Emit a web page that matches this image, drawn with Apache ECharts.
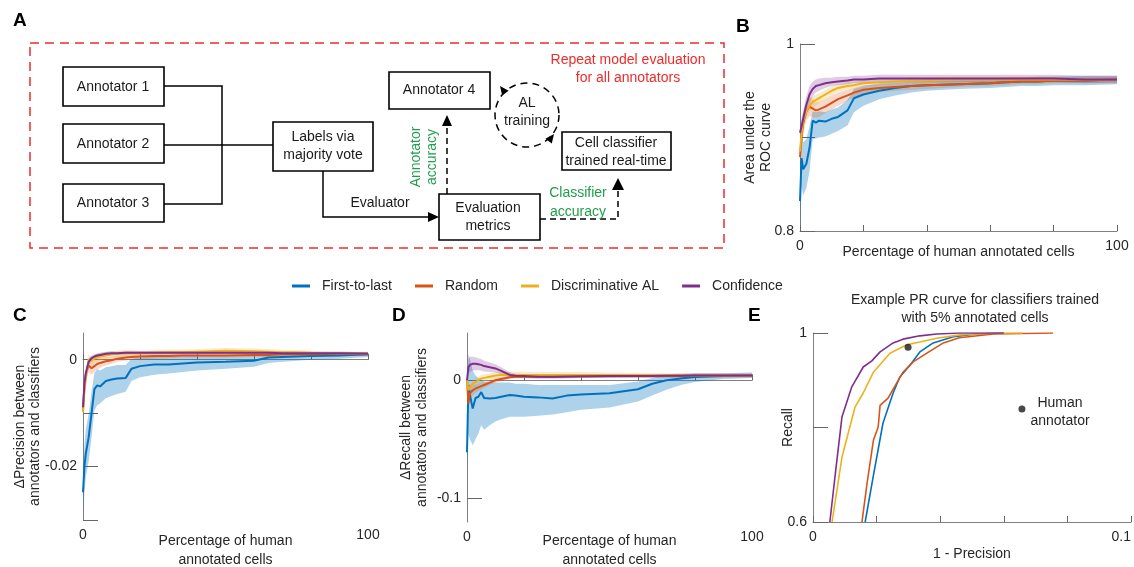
<!DOCTYPE html>
<html>
<head>
<meta charset="utf-8">
<title>Annotator vs classifier evaluation</title>
<script src="https://cdn.jsdelivr.net/npm/echarts@6/dist/echarts.min.js"></script>
<style>
  html, body { margin: 0; padding: 0; background: #fff; }
  #chart { width: 1134px; height: 567px; }
</style>
</head>
<body>
<div id="chart"></div>
<script>
// ---- data ----
// percentage of human annotated cells (x for panels B, C, D)
var pct = [0, 0.5, 1, 2, 3, 4, 5, 6, 8, 10, 12, 15, 17, 20, 25, 30, 35, 40, 50, 60, 65, 70, 75, 80, 90, 100];

// B: area under the ROC curve (mean, lower, upper)
var bBlue   = [0.832,0.878,0.866,0.872,0.889,0.918,0.916,0.918,0.917,0.920,0.922,0.929,0.942,0.946,0.950,0.953,0.955,0.956,0.957,0.958,0.959,0.960,0.960,0.961,0.961,0.962];
var bBlueLo = [0.800,0.848,0.838,0.846,0.864,0.898,0.899,0.900,0.901,0.904,0.907,0.913,0.927,0.934,0.941,0.945,0.948,0.950,0.952,0.953,0.954,0.955,0.955,0.956,0.956,0.957];
var bBlueHi = [0.860,0.905,0.895,0.898,0.912,0.928,0.927,0.928,0.927,0.930,0.932,0.940,0.952,0.955,0.958,0.960,0.961,0.962,0.963,0.963,0.964,0.964,0.965,0.965,0.966,0.966];
var bRed    = [0.879,0.900,0.915,0.928,0.933,0.931,0.929,0.930,0.933,0.937,0.941,0.945,0.948,0.951,0.953,0.954,0.955,0.956,0.957,0.958,0.959,0.960,0.960,0.961,0.961,0.962];
var bRedLo  = [0.868,0.889,0.904,0.918,0.923,0.922,0.921,0.922,0.926,0.930,0.934,0.939,0.943,0.946,0.949,0.950,0.951,0.952,0.954,0.955,0.956,0.957,0.957,0.958,0.958,0.959];
var bRedHi  = [0.890,0.911,0.926,0.938,0.943,0.941,0.938,0.938,0.941,0.945,0.948,0.951,0.953,0.956,0.957,0.958,0.959,0.960,0.960,0.961,0.962,0.963,0.963,0.964,0.964,0.965];
var bYel    = [0.885,0.905,0.918,0.928,0.934,0.938,0.940,0.942,0.946,0.950,0.953,0.955,0.956,0.958,0.959,0.960,0.961,0.961,0.962,0.962,0.962,0.962,0.962,0.962,0.962,0.962];
var bYelLo  = [0.877,0.897,0.910,0.921,0.927,0.932,0.934,0.937,0.941,0.945,0.949,0.951,0.952,0.955,0.956,0.957,0.958,0.958,0.959,0.959,0.959,0.959,0.959,0.959,0.959,0.959];
var bYelHi  = [0.893,0.913,0.926,0.935,0.941,0.944,0.946,0.947,0.951,0.955,0.957,0.959,0.960,0.961,0.962,0.963,0.964,0.964,0.965,0.965,0.965,0.965,0.965,0.965,0.965,0.965];
var bPur    = [0.905,0.912,0.920,0.935,0.946,0.952,0.955,0.956,0.958,0.959,0.960,0.961,0.962,0.962,0.963,0.963,0.963,0.963,0.963,0.963,0.963,0.963,0.963,0.963,0.962,0.962];
var bPurLo  = [0.897,0.903,0.911,0.926,0.937,0.944,0.948,0.950,0.953,0.955,0.956,0.957,0.958,0.958,0.959,0.959,0.959,0.959,0.959,0.959,0.959,0.959,0.959,0.959,0.958,0.958];
var bPurHi  = [0.913,0.921,0.929,0.944,0.955,0.960,0.962,0.963,0.964,0.964,0.965,0.965,0.966,0.966,0.967,0.967,0.967,0.967,0.967,0.967,0.967,0.967,0.967,0.967,0.966,0.966];

// C: delta precision
var cBlue   = [-0.0248,-0.0200,-0.0175,-0.0145,-0.0100,-0.0055,-0.0048,-0.0050,-0.0040,-0.0037,-0.0035,-0.0034,-0.0017,-0.0012,-0.0009,-0.0009,-0.0007,-0.0005,-0.0004,-0.0002,0.0004,0.0005,0.0006,0.0007,0.0008,0.0010];
var cBlueLo = [-0.0290,-0.0250,-0.0220,-0.0190,-0.0145,-0.0095,-0.0085,-0.0082,-0.0072,-0.0068,-0.0064,-0.0060,-0.0040,-0.0033,-0.0028,-0.0026,-0.0023,-0.0020,-0.0017,-0.0013,-0.0006,-0.0004,-0.0002,0.0000,0.0002,0.0005];
var cBlueHi = [-0.0210,-0.0160,-0.0130,-0.0100,-0.0060,-0.0025,-0.0018,-0.0020,-0.0014,-0.0012,-0.0010,-0.0010,0.0002,0.0004,0.0006,0.0006,0.0007,0.0008,0.0008,0.0008,0.0012,0.0013,0.0013,0.0013,0.0013,0.0014];
var cRed    = [-0.0095,-0.0050,-0.0026,-0.0011,-0.0016,-0.0012,-0.0008,-0.0006,-0.0003,-0.0001,0.0002,0.0004,0.0005,0.0006,0.0007,0.0007,0.0008,0.0008,0.0008,0.0009,0.0009,0.0010,0.0010,0.0010,0.0011,0.0011];
var cRedLo  = [-0.0110,-0.0064,-0.0039,-0.0023,-0.0028,-0.0023,-0.0018,-0.0015,-0.0011,-0.0008,-0.0004,-0.0002,0.0000,0.0001,0.0002,0.0003,0.0004,0.0004,0.0004,0.0005,0.0005,0.0006,0.0006,0.0006,0.0007,0.0007];
var cRedHi  = [-0.0080,-0.0036,-0.0013,0.0001,-0.0004,-0.0001,0.0002,0.0003,0.0005,0.0006,0.0008,0.0010,0.0010,0.0011,0.0012,0.0011,0.0012,0.0012,0.0012,0.0013,0.0013,0.0014,0.0014,0.0014,0.0015,0.0015];
var cYel    = [-0.0098,-0.0060,-0.0035,0.0001,-0.0002,0.0002,0.0004,0.0006,0.0008,0.0010,0.0011,0.0012,0.0012,0.0012,0.0013,0.0014,0.0014,0.0015,0.0017,0.0016,0.0015,0.0014,0.0014,0.0013,0.0012,0.0011];
var cYelLo  = [-0.0108,-0.0070,-0.0045,-0.0008,-0.0010,-0.0005,-0.0003,-0.0001,0.0002,0.0004,0.0005,0.0006,0.0006,0.0007,0.0008,0.0009,0.0009,0.0010,0.0012,0.0011,0.0010,0.0010,0.0010,0.0009,0.0009,0.0008];
var cYelHi  = [-0.0088,-0.0050,-0.0025,0.0010,0.0006,0.0009,0.0011,0.0013,0.0014,0.0016,0.0017,0.0018,0.0018,0.0017,0.0018,0.0019,0.0019,0.0020,0.0022,0.0021,0.0020,0.0018,0.0018,0.0017,0.0015,0.0014];
var cPur    = [-0.0089,-0.0045,-0.0025,-0.0004,0.0003,0.0006,0.0008,0.0009,0.0011,0.0012,0.0012,0.0013,0.0013,0.0013,0.0013,0.0013,0.0013,0.0013,0.0013,0.0013,0.0013,0.0012,0.0012,0.0012,0.0012,0.0011];
var cPurLo  = [-0.0097,-0.0053,-0.0032,-0.0010,-0.0002,0.0002,0.0004,0.0005,0.0007,0.0008,0.0009,0.0010,0.0010,0.0010,0.0010,0.0010,0.0010,0.0010,0.0010,0.0010,0.0010,0.0009,0.0009,0.0009,0.0009,0.0008];
var cPurHi  = [-0.0081,-0.0037,-0.0018,0.0002,0.0008,0.0010,0.0012,0.0013,0.0015,0.0016,0.0015,0.0016,0.0016,0.0016,0.0016,0.0016,0.0016,0.0016,0.0016,0.0016,0.0016,0.0015,0.0015,0.0015,0.0015,0.0014];

// D: delta recall
var dBlue   = [-0.061,-0.004,-0.012,-0.024,-0.015,-0.014,-0.010,-0.015,-0.0155,-0.015,-0.014,-0.0125,-0.013,-0.014,-0.0145,-0.0155,-0.013,-0.012,-0.011,-0.0076,-0.003,0.000,0.0015,0.0028,0.0036,0.0042];
var dBlueLo = [-0.075,-0.045,-0.050,-0.055,-0.050,-0.045,-0.038,-0.042,-0.038,-0.035,-0.033,-0.031,-0.031,-0.031,-0.030,-0.029,-0.027,-0.025,-0.023,-0.018,-0.013,-0.008,-0.004,-0.0015,0.001,0.002];
var dBlueHi = [-0.040,0.022,0.018,0.008,0.004,0.002,0.001,-0.001,-0.002,-0.002,-0.002,-0.002,-0.003,-0.003,-0.004,-0.004,-0.004,-0.004,-0.004,-0.001,0.002,0.004,0.005,0.006,0.006,0.0065];
var dRed    = [0.000,-0.020,-0.011,-0.0085,-0.007,-0.006,-0.005,-0.004,-0.002,0.000,0.001,0.0025,0.003,0.003,0.003,0.003,0.0032,0.0033,0.0035,0.0036,0.0037,0.0038,0.0039,0.004,0.004,0.004];
var dRedLo  = [-0.004,-0.025,-0.016,-0.0125,-0.0105,-0.009,-0.008,-0.0065,-0.004,-0.002,-0.0008,0.001,0.0015,0.0015,0.0015,0.0015,0.0017,0.0018,0.002,0.0021,0.0022,0.0023,0.0024,0.0025,0.0025,0.0025];
var dRedHi  = [0.004,-0.015,-0.006,-0.0045,-0.0035,-0.003,-0.002,-0.0015,0.000,0.002,0.0028,0.004,0.0045,0.0045,0.0045,0.0045,0.0047,0.0048,0.005,0.0051,0.0052,0.0053,0.0054,0.0055,0.0055,0.0055];
var dYel    = [0.000,-0.0085,-0.006,-0.003,-0.0015,0.000,0.0015,0.002,0.003,0.004,0.0045,0.0045,0.0045,0.0045,0.0045,0.0045,0.0045,0.0045,0.0045,0.0044,0.0043,0.0042,0.0042,0.0041,0.0041,0.004];
var dYelLo  = [-0.003,-0.0115,-0.009,-0.006,-0.0045,-0.003,-0.0015,-0.001,0.000,0.001,0.0015,0.0017,0.0018,0.0019,0.002,0.002,0.002,0.002,0.0025,0.0025,0.0025,0.0025,0.0025,0.0025,0.0025,0.0025];
var dYelHi  = [0.003,-0.0055,-0.003,0.000,0.0015,0.003,0.0045,0.005,0.006,0.007,0.0075,0.0073,0.0072,0.0071,0.007,0.007,0.007,0.007,0.0065,0.0063,0.0061,0.0059,0.0059,0.0057,0.0057,0.0055];
var dPur    = [0.000,0.011,0.013,0.014,0.014,0.0135,0.013,0.012,0.011,0.010,0.008,0.0045,0.0038,0.0035,0.003,0.003,0.0032,0.0033,0.0035,0.0036,0.0037,0.0038,0.0039,0.004,0.004,0.004];
var dPurLo  = [-0.004,0.005,0.007,0.008,0.0085,0.0085,0.008,0.0075,0.007,0.0065,0.005,0.0025,0.0022,0.0018,0.0015,0.0015,0.0017,0.0018,0.002,0.0021,0.0022,0.0023,0.0024,0.0025,0.0025,0.0025];
var dPurHi  = [0.004,0.019,0.020,0.020,0.0195,0.0185,0.018,0.0165,0.015,0.0135,0.011,0.0068,0.0056,0.0052,0.0045,0.0045,0.0047,0.0048,0.005,0.0051,0.0052,0.0053,0.0054,0.0055,0.0055,0.0055];

// E: PR curves, 1 - precision (x) vs recall (y)
var eBlueX = [0.0164,0.0189,0.0220,0.0252,0.0273,0.0305,0.0336,0.0378,0.0441,0.0515,0.0600];
var eBlueY = [0.600,0.695,0.809,0.873,0.907,0.932,0.960,0.979,0.992,0.998,1.000];
var eRedX  = [0.0154,0.0170,0.0190,0.0205,0.0211,0.0236,0.0263,0.0283,0.0315,0.0357,0.0410,0.0460,0.0567,0.0755];
var eRedY  = [0.600,0.682,0.773,0.801,0.847,0.862,0.894,0.917,0.939,0.957,0.979,0.990,0.998,1.000];
var eYelX  = [0.0060,0.0091,0.0132,0.0158,0.0190,0.0242,0.0295,0.0336,0.0389,0.0462,0.0570,0.0660];
var eYelY  = [0.600,0.737,0.843,0.873,0.917,0.957,0.975,0.981,0.989,0.996,1.000,1.000];
var ePurX  = [0.0053,0.0069,0.0091,0.0122,0.0158,0.0185,0.0211,0.0252,0.0283,0.0336,0.0389,0.0460,0.0600];
var ePurY  = [0.600,0.695,0.822,0.886,0.928,0.941,0.960,0.979,0.987,0.994,0.998,1.000,1.000];
var humanX = [0.0657, 0.0299];
var humanY = [0.839, 0.970];

var methods = ['First-to-last', 'Random', 'Discriminative AL', 'Confidence'];

// ---- styling ----
var FONT = '"Liberation Sans", Arial, Helvetica, sans-serif';
var COL  = ['#0072BD', '#D95319', '#EDB120', '#7E2F8E'];
var BAND = ['rgba(0,114,189,0.32)', 'rgba(217,83,25,0.22)', 'rgba(237,177,32,0.25)', 'rgba(126,47,142,0.25)'];
var GREEN = '#1f9e4b', RED = '#ee2b2b';

function zip(xs, ys) { return xs.map(function (x, i) { return [x, ys[i]]; }); }

// shaded spread: one polygon, upper edge forward then lower edge back, via the axis scales
function bandSeries(g, k, lo, hi) {
  var d = pct.map(function (x, i) { return [x, lo[i], hi[i]]; });
  return { type: 'custom', xAxisIndex: g, yAxisIndex: g, data: d, encode: { x: 0, y: [1, 2] },
    silent: true, clip: true, z: 1,
    renderItem: function (params, api) {
      if (params.dataIndex !== 0) return null;
      var up = d.map(function (p) { return api.coord([p[0], p[2]]); });
      var dn = d.slice().reverse().map(function (p) { return api.coord([p[0], p[1]]); });
      return { type: 'polygon', shape: { points: up.concat(dn) }, style: { fill: BAND[k] } };
    } };
}
function meanSeries(g, k, xs, ys, w) {
  return { type: 'line', name: methods[k], xAxisIndex: g, yAxisIndex: g, symbol: 'none',
    data: zip(xs, ys), lineStyle: { color: COL[k], width: w }, itemStyle: { color: COL[k] }, z: 3 };
}

var panels = [
  { means: [bBlue, bRed, bYel, bPur], lo: [bBlueLo, bRedLo, bYelLo, bPurLo], hi: [bBlueHi, bRedHi, bYelHi, bPurHi] },
  { means: [cBlue, cRed, cYel, cPur], lo: [cBlueLo, cRedLo, cYelLo, cPurLo], hi: [cBlueHi, cRedHi, cYelHi, cPurHi] },
  { means: [dBlue, dRed, dYel, dPur], lo: [dBlueLo, dRedLo, dYelLo, dPurLo], hi: [dBlueHi, dRedHi, dYelHi, dPurHi] }
];

var series = [];
panels.forEach(function (p, g) {
  for (var k = 0; k < 4; k++) series.push(bandSeries(g, k, p.lo[k], p.hi[k]));
  for (var k2 = 0; k2 < 4; k2++) series.push(meanSeries(g, k2, pct, p.means[k2], 2));
});
series.push(meanSeries(3, 0, eBlueX, eBlueY, 1.6));
series.push(meanSeries(3, 1, eRedX, eRedY, 1.6));
series.push(meanSeries(3, 2, eYelX, eYelY, 1.6));
series.push(meanSeries(3, 3, ePurX, ePurY, 1.6));
series.push({ type: 'scatter', xAxisIndex: 3, yAxisIndex: 3, data: zip(humanX, humanY),
  symbolSize: 7, itemStyle: { color: '#1a1a1a' }, z: 4 });

// ---- axes ----
var axLine = { show: true, lineStyle: { color: '#808080', width: 1 } };
var lab = { color: '#262626', fontSize: 14, fontFamily: FONT };
var nameStyle = { color: '#262626', fontSize: 14, fontFamily: FONT };

function fmt(v) { return String(Math.round(v * 1e6) / 1e6); }

function xAxis(g, min, max, ticks, labels, name, gap, extra) {
  var a = { gridIndex: g, type: 'value', min: min, max: max,
    axisLine: axLine, splitLine: { show: false },
    axisTick: { inside: true, length: 6, customValues: ticks, lineStyle: { color: '#666' } },
    axisLabel: Object.assign({ customValues: labels, formatter: fmt, margin: 8 }, lab),
    name: name, nameLocation: 'middle', nameGap: gap, nameMoveOverlap: false,
    nameTextStyle: Object.assign({ lineHeight: 19 }, nameStyle) };
  if (extra) Object.assign(a.axisLabel, extra);
  return a;
}
function yAxis(g, min, max, ticks, labels, name, gap, lh) {
  return { gridIndex: g, type: 'value', min: min, max: max,
    axisLine: axLine, splitLine: { show: false },
    axisTick: { inside: true, length: 15, customValues: ticks, lineStyle: { color: '#666' } },
    axisLabel: Object.assign({ customValues: labels, formatter: fmt, margin: 6 }, lab),
    name: name, nameLocation: 'middle', nameGap: gap, nameMoveOverlap: false,
    nameTextStyle: Object.assign({ lineHeight: lh }, nameStyle) };
}

var xTicks = [0, 20, 40, 60, 80, 100];

// ---- panel A diagram ----
function box(x, y, w, h) {
  return { type: 'rect', shape: { x: x, y: y, width: w, height: h },
    style: { fill: '#fff', stroke: '#000', lineWidth: 1.6 } };
}
function txt(x, y, s, extra) {
  return { type: 'text', x: x, y: y, style: Object.assign({ text: s, fill: '#1a1a1a',
    font: '14px ' + FONT, align: 'center', verticalAlign: 'middle', lineHeight: 18 }, extra || {}) };
}
function pline(pts, dash) {
  return { type: 'polyline', shape: { points: pts },
    style: { stroke: '#000', lineWidth: 1.5, fill: 'none', lineDash: dash ? [6, 4] : null } };
}
function head(pts) {
  return { type: 'polygon', shape: { points: pts }, style: { fill: '#000' } };
}
function letter(x, y, s) {
  return { type: 'text', x: x, y: y, style: { text: s, fill: '#000', font: 'bold 19px ' + FONT,
    align: 'left', verticalAlign: 'middle' } };
}

var diagram = [
  { type: 'rect', shape: { x: 30, y: 43, width: 694, height: 205 },
    style: { fill: 'none', stroke: RED, lineWidth: 1.5, lineDash: [9, 6] } },
  pline([[164, 86], [222, 86], [222, 204], [164, 204]]),
  pline([[164, 145], [273, 145]]),
  pline([[323, 171], [323, 217], [430, 217]]),
  head([[439, 217], [428, 212], [428, 222]]),
  pline([[447, 194], [447, 125]], true),
  head([[447, 115], [442, 126], [452, 126]]),
  pline([[540, 219], [618, 219], [618, 189]], true),
  head([[618, 178], [612, 190], [624, 190]]),
  { type: 'circle', shape: { cx: 527, cy: 115, r: 32 },
    style: { fill: 'none', stroke: '#000', lineWidth: 1.5, lineDash: [7, 5] } },
  head([[500, 86], [508.6, 90.8], [502.2, 95.6]]),
  head([[554, 134], [551.8, 143.6], [545.4, 138.8]]),
  box(63, 67, 101, 39), box(63, 124, 101, 39), box(63, 184, 101, 38),
  box(273, 122, 100, 49), box(389, 72, 101, 37), box(439, 194, 101, 46), box(562, 132, 109, 38),
  txt(113, 87, 'Annotator 1'), txt(113, 144, 'Annotator 2'), txt(113, 203, 'Annotator 3'),
  txt(323, 146, 'Labels via\nmajority vote'),
  txt(439, 90, 'Annotator 4'),
  txt(488, 217, 'Evaluation\nmetrics'),
  txt(527, 112, 'AL\ntraining'),
  txt(616, 152, 'Cell classifier\ntrained real-time'),
  txt(380, 203, 'Evaluator'),
  txt(628, 69, 'Repeat model evaluation\nfor all annotators', { fill: RED }),
  { type: 'text', x: 424, y: 157, rotation: Math.PI / 2,
    style: { text: 'Annotator\naccuracy', fill: GREEN, font: '14px ' + FONT, align: 'center',
      verticalAlign: 'middle', lineHeight: 16 } },
  txt(578, 203, 'Classifier\naccuracy', { fill: GREEN, lineHeight: 19 }),
  letter(13, 21, 'A'), letter(736, 27, 'B'), letter(13, 316, 'C'), letter(392, 316, 'D'), letter(748, 316, 'E'),
  txt(975, 309, 'Example PR curve for classifiers trained\nwith 5% annotated cells', { fill: '#262626' }),
  txt(1060, 412, 'Human\nannotator', { fill: '#262626' })
];

var chart = echarts.init(document.getElementById('chart'), null, { renderer: 'canvas' });
chart.setOption({
  animation: false,
  backgroundColor: '#fff',
  textStyle: { fontFamily: FONT },
  legend: { data: methods, left: 287, top: 274, icon: 'rect', itemWidth: 18, itemHeight: 3, itemGap: 23,
    textStyle: { fontSize: 14, color: '#262626', fontFamily: FONT, padding: [0, 0, 0, 7] } },
  grid: [
    { left: 800, top: 44, width: 317, height: 187, outerBoundsMode: 'none' },
    { left: 83, top: 333, width: 285, height: 187, outerBoundsMode: 'none' },
    { left: 467, top: 333, width: 285, height: 189, outerBoundsMode: 'none' },
    { left: 813, top: 333, width: 318, height: 189, outerBoundsMode: 'none' }
  ],
  xAxis: [
    xAxis(0, 0, 100, xTicks, [0, 100], 'Percentage of human annotated cells', 12),
    xAxis(1, 0, 100, xTicks, [0, 100], 'Percentage of human\nannotated cells', 12),
    xAxis(2, 0, 100, xTicks, [0, 100], 'Percentage of human\nannotated cells', 10),
    xAxis(3, 0, 0.1, [0, 0.02, 0.04, 0.06, 0.08, 0.1], [0, 0.1], '1 - Precision', 23, { alignMaxLabel: 'right' })
  ],
  yAxis: [
    yAxis(0, 0.8, 1, [0.8, 0.9, 1], [0.8, 1], 'Area under the\nROC curve', 26, 16),
    yAxis(1, -0.03, 0.005, [-0.03, -0.02, -0.01, 0], [-0.02, 0], '\u0394Precision between\nannotators and classifiers', 40, 15),
    yAxis(2, -0.12, 0.04, [-0.1, 0], [-0.1, 0], '\u0394Recall between\nannotators and classifiers', 37, 16),
    yAxis(3, 0.6, 1, [0.6, 0.8, 1], [0.6, 1], 'Recall', 17, 16)
  ],
  graphic: diagram,
  series: series
});
</script>
</body>
</html>
